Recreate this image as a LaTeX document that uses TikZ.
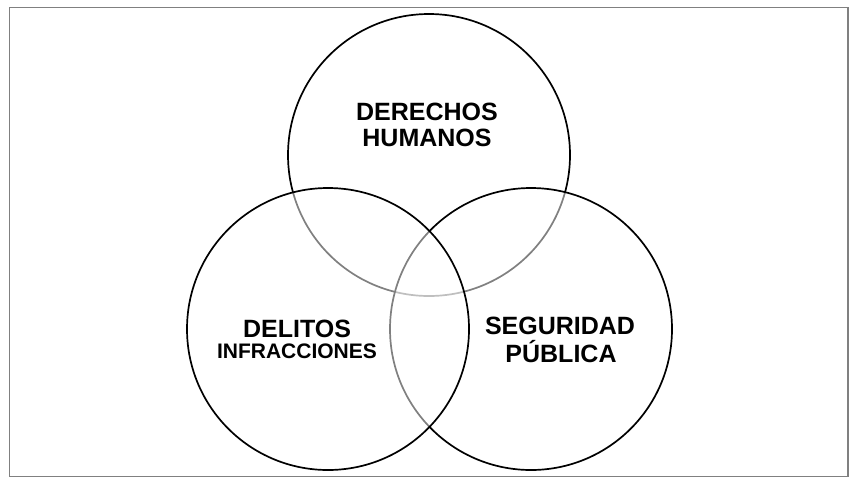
\documentclass[tikz,border=0pt]{standalone}
\usepackage{fontspec}
\setmainfont{Liberation Sans}
\begin{document}
\begin{tikzpicture}[x=1pt,y=-1pt,
  ring/.style={draw=black,line width=1.7pt,fill=white,fill opacity=0.5},
  big/.style={font=\fontsize{25}{28}\selectfont\bfseries,anchor=base,inner sep=0pt},
  small/.style={font=\fontsize{21}{24}\selectfont\bfseries,anchor=base,inner sep=0pt}]
\useasboundingbox (0,0) rectangle (866,496);
\draw[draw=black!50,line width=1.8pt] (9.5,7.5) rectangle (848,476.5);
\draw[ring] (429,155) circle[radius=141];
\draw[ring] (531,329) circle[radius=141];
\draw[ring] (328,329) circle[radius=141];
\node[big] (dh1) at (427,120) {DERECHOS};
\node[big] (dh2) at (427,146) {HUMANOS};
\node[big] (de1) at (297,337) {DELITOS};
\node[small] (de2) at (297,358) {INFRACCIONES};
\node[big] (sp1) at (560,334) {SEGURIDAD};
\node[big] (sp2) at (561,362) {PÚBLICA};
\end{tikzpicture}
\end{document}
